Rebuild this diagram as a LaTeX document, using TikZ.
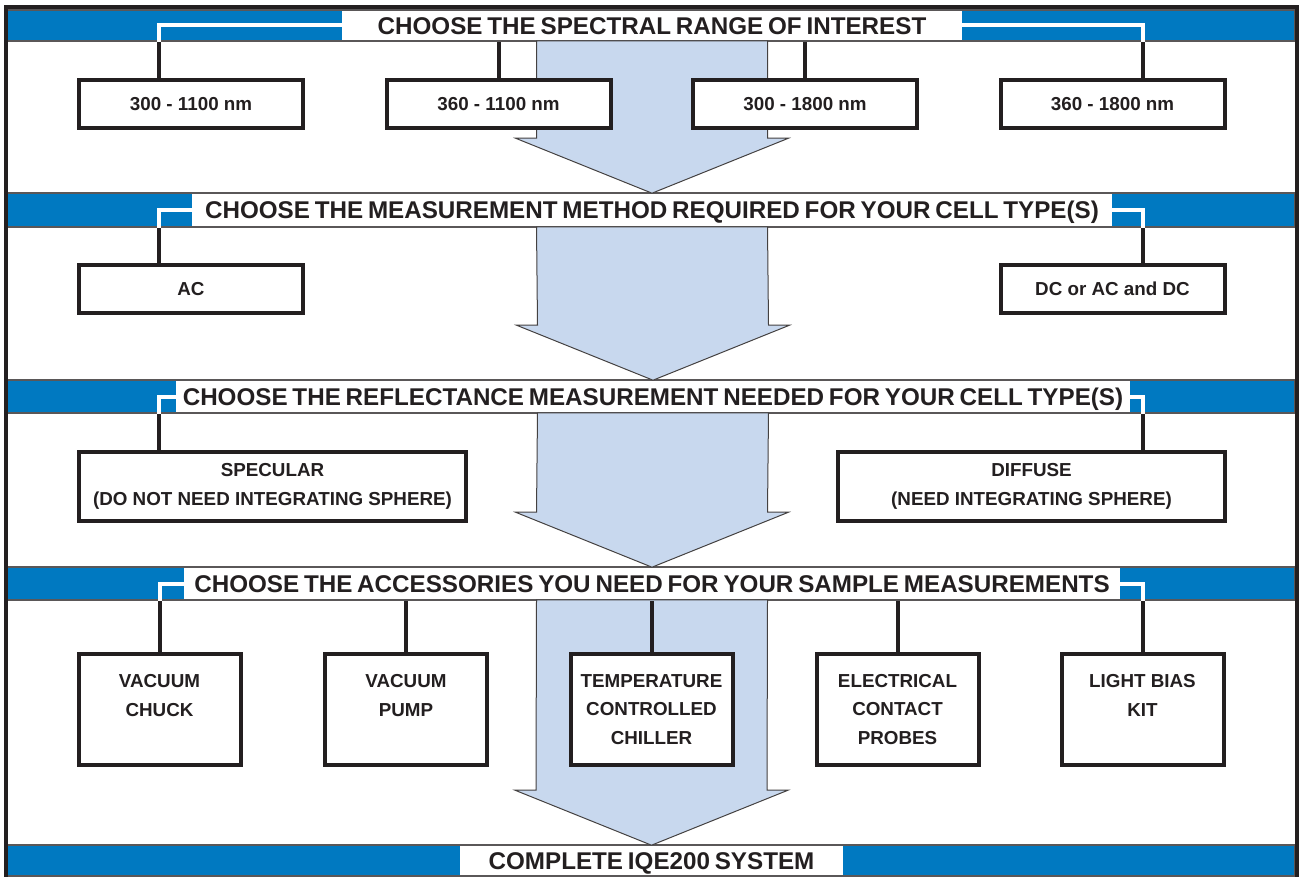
\documentclass[tikz,border=0pt]{standalone}
\usepackage{fontspec}
\setmainfont{Liberation Sans}
\usetikzlibrary{calc}
\definecolor{barblue}{RGB}{0,121,193}
\definecolor{flowblue}{RGB}{200,216,238}
\definecolor{ink}{RGB}{35,31,32}
\def\headlen{55}
\newcommand{\titlefont}{\fontsize{12.1}{14}\selectfont\bfseries\spaceskip=0.2em\relax}

\begin{document}
\begin{tikzpicture}[x=0.5pt,y=-0.5pt]
    \tikzstyle{bar}=[draw=ink!75,line width=0.6pt,fill=barblue,minimum width=644.5pt,inner sep=0pt]
    \tikzstyle{title}=[fill=white,inner sep=0pt,text=ink,text height=8.6pt,text depth=0pt,font=\titlefont]
    \tikzstyle{choice}=[draw=ink,line width=2pt,fill=white,inner sep=0pt,text=ink,align=center,font=\fontsize{9.4}{14.4}\selectfont\bfseries]
    \tikzstyle{wire}=[draw=ink,line width=2pt]
    \tikzstyle{wire in bar}=[draw=white,line width=2pt]
    \tikzstyle{flow}=[draw=ink!85,line width=0.5pt,fill=flowblue,line join=miter]

    \useasboundingbox (0,0) rectangle (1301,877);
    \clip (0,0) rectangle (1301,877);

    % Draw the blue bars and their titles
    \node[bar,minimum height=15.5pt] (bar1) at (650.5,25.5) {};
    \node[bar,minimum height=17pt] (bar2) at (650.5,210) {};
    \node[bar,minimum height=16.5pt] (bar3) at (650.5,396.5) {};
    \node[bar,minimum height=16.5pt] (bar4) at (650.5,583.5) {};
    \node[bar,minimum height=15.5pt] (bar5) at (650.5,860.5) {};

    \node[title,minimum width=310pt,minimum height=14.9pt] (t1) at (652,25.5) {CHOOSE THE SPECTRAL RANGE OF INTEREST};
    \node[title,minimum width=460pt,minimum height=16.4pt] (t2) at (652,210) {CHOOSE THE MEASUREMENT METHOD REQUIRED FOR YOUR CELL TYPE(S)};
    \node[title,minimum width=477pt,minimum height=15.9pt] (t3) at (653,396.5) {CHOOSE THE REFLECTANCE MEASUREMENT NEEDED FOR YOUR CELL TYPE(S)};
    \node[title,minimum width=468pt,minimum height=15.9pt] (t4) at (652,583.5) {CHOOSE THE ACCESSORIES YOU NEED FOR YOUR SAMPLE MEASUREMENTS};
    \node[title,minimum width=191.5pt,minimum height=14.9pt] (t5) at (651.5,860.5) {COMPLETE IQE200 SYSTEM};

    % Big arrows from one bar to the next
    \foreach \a/\b in {1/2,2/3,3/4,4/5}
        \draw[flow] ($(t\a.south)+(-115.5,0)$) -- ($(t\b.north)+(-115.5,-\headlen)$)
            -- ($(t\b.north)+(-136.5,-\headlen)$) -- (t\b.north)
            -- ($(t\b.north)+(136.5,-\headlen)$) -- ($(t\b.north)+(115.5,-\headlen)$)
            -- ($(t\a.south)+(115.5,0)$) -- cycle;

    % Draw the choice boxes
    \foreach \name/\x/\txt in {r1/191/300 - 1100 nm, r2/498.5/360 - 1100 nm,
                               r3/805/300 - 1800 nm, r4/1112.5/360 - 1800 nm}
        \node[choice,minimum width=112pt,minimum height=24pt] (\name) at (\x,104) {\txt};

    \node[choice,minimum width=112pt,minimum height=24pt] (m1) at (191,289) {AC};
    \node[choice,minimum width=112pt,minimum height=24pt] (m2) at (1112.5,289) {DC or AC and DC};

    \node[choice,minimum width=193.5pt,minimum height=34.5pt] (s1) at (272.5,486.5) {SPECULAR\\(DO NOT NEED INTEGRATING SPHERE)};
    \node[choice,minimum width=193.5pt,minimum height=34.5pt] (s2) at (1031.5,486.5) {DIFFUSE\\(NEED INTEGRATING SPHERE)};

    \foreach \name/\x/\txt in {a1/159.5/VACUUM\\CHUCK\\\phantom{X}, a2/406/VACUUM\\PUMP\\\phantom{X},
                               a3/651.5/TEMPERATURE\\CONTROLLED\\CHILLER, a4/897.5/ELECTRICAL\\CONTACT\\PROBES,
                               a5/1142.5/LIGHT BIAS\\KIT\\\phantom{X}}
        \node[choice,minimum width=81pt,minimum height=55.5pt] (\name) at (\x,709.5) {\txt};

    % Connectors from the bars to the boxes
    \coordinate (L) at (159,0);
    \coordinate (R) at (1143,0);

    \draw[wire] (t1.west) -| (L |- r1.north);
    \draw[wire in bar] (t1.west) -| (L |- bar1.south);
    \draw[wire] (t1.east) -| (R |- r4.north);
    \draw[wire in bar] (t1.east) -| (R |- bar1.south);
    \foreach \name in {r2,r3}
        \draw[wire] (\name.north) -- (\name.north |- bar1.south);

    \draw[wire] (t2.west) -| (L |- m1.north);
    \draw[wire in bar] (t2.west) -| (L |- bar2.south);
    \draw[wire] (t2.east) -| (R |- m2.north);
    \draw[wire in bar] (t2.east) -| (R |- bar2.south);

    \draw[wire] (t3.west) -| (L |- s1.north);
    \draw[wire in bar] (t3.west) -| (L |- bar3.south);
    \draw[wire] (t3.east) -| (R |- s2.north);
    \draw[wire in bar] (t3.east) -| (R |- bar3.south);

    \draw[wire] (t4.west) -| (a1.north);
    \draw[wire in bar] (t4.west) -| (a1.north |- bar4.south);
    \draw[wire] (t4.east) -| (a5.north);
    \draw[wire in bar] (t4.east) -| (a5.north |- bar4.south);
    \foreach \name in {a2,a3,a4}
        \draw[wire] (\name.north) -- (\name.north |- bar4.south);

    % Outer frame
    \draw[draw=ink,line width=2pt] (5.5,900) -- (5.5,7.5) -- (1297,7.5) -- (1297,900);
\end{tikzpicture}
\end{document}
